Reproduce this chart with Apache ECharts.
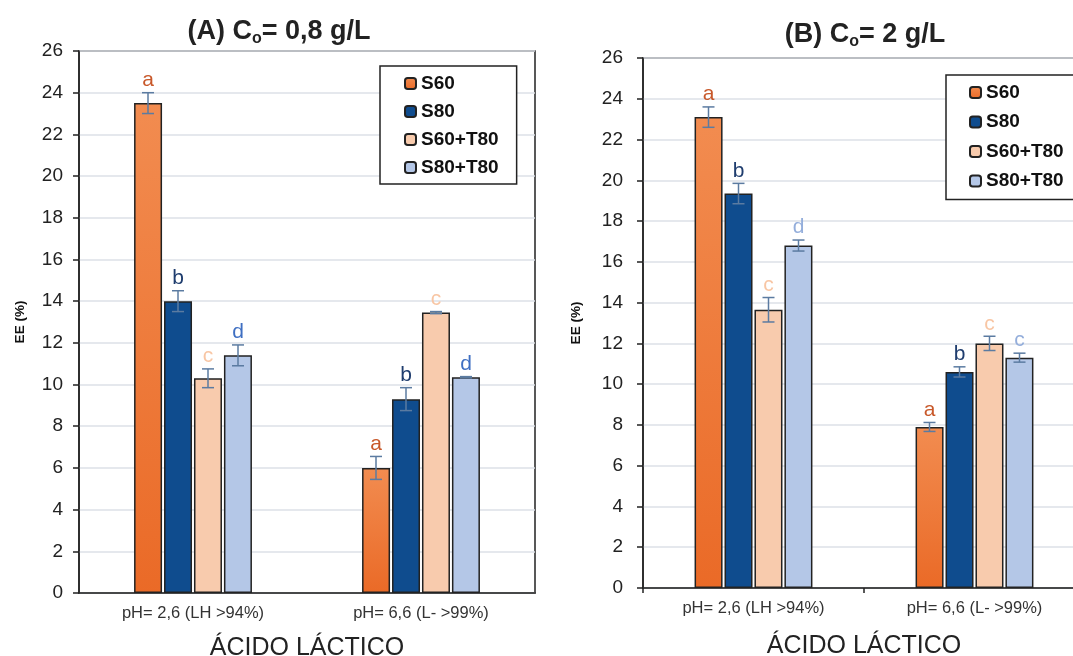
<!DOCTYPE html>
<html>
<head>
<meta charset="utf-8">
<script src="https://cdn.jsdelivr.net/npm/echarts@6/dist/echarts.min.js"></script>
<style>
  html, body { margin: 0; padding: 0; background: #fff; }
  #main { width: 1073px; height: 656px; }
</style>
</head>
<body>
<div id="main"></div>
<script>
var categories = ['pH= 2,6 (LH >94%)', 'pH= 6,6 (L- >99%)'];
var seriesNames = ['S60', 'S80', 'S60+T80', 'S80+T80'];
var yTicks = [0, 26, 2];

// panel A (Co = 0,8 g/L)
var aS60 = [23.5, 6.0];
var aS80 = [14.0, 9.3];
var aS60T80 = [10.3, 13.45];
var aS80T80 = [11.4, 10.35];
var aErr = [[0.5, 0.55], [0.5, 0.55], [0.45, 0.05], [0.5, 0.03]];
var aLetters = [['a', 'a'], ['b', 'b'], ['c', 'c'], ['d', 'd']];

// panel B (Co = 2 g/L)
var bS60 = [23.1, 7.9];
var bS80 = [19.35, 10.6];
var bS60T80 = [13.65, 12.0];
var bS80T80 = [16.8, 11.3];
var bErr = [[0.5, 0.22], [0.5, 0.25], [0.6, 0.35], [0.27, 0.22]];
var bLetters = [['a', 'a'], ['b', 'b'], ['c', 'c'], ['d', 'c']];

var myChart = echarts.init(document.getElementById('main'));

var fills = [
    new echarts.graphic.LinearGradient(0, 0, 0, 1, [
        {offset: 0, color: '#f28c50'}, {offset: 1, color: '#ea6a27'}
    ]),
    '#0f4c8e', '#f8cbad', '#b4c7e7'
];
var letterColorsA = ['#c8582a', '#1f3d6e', '#f8c6a4', '#3f6fc2'];
var letterColorsB = ['#c8582a', '#1f3d6e', '#f8c6a4', '#94aedb'];
var errColor = '#5b7ba1';
var font = '"Liberation Sans", Arial, sans-serif';

function barSeries(name, idx, values, axis) {
    return {
        name: name,
        type: 'bar',
        xAxisIndex: axis,
        yAxisIndex: axis,
        barWidth: 28,
        barGap: '7%',
        itemStyle: { color: fills[idx], borderColor: '#222', borderWidth: 1.5 },
        data: values
    };
}

function errSeries(idx, values, errs, letters, letterColors, axis) {
    var offset = (idx - 1.5) * 30;
    return {
        type: 'custom',
        xAxisIndex: axis,
        yAxisIndex: axis,
        z: 5,
        data: values.map(function(v, i) { return [i, v, errs[i]]; }),
        renderItem: function(params, api) {
            var c = api.value(0), v = api.value(1), e = api.value(2);
            var top = api.coord([c, v + e]);
            var bot = api.coord([c, v - e]);
            var x = top[0] + offset;
            var st = { stroke: errColor, lineWidth: 1.5 };
            return {
                type: 'group',
                children: [
                    { type: 'line', shape: { x1: x, y1: top[1], x2: x, y2: bot[1] }, style: st },
                    { type: 'line', shape: { x1: x - 6, y1: top[1], x2: x + 6, y2: top[1] }, style: st },
                    { type: 'line', shape: { x1: x - 6, y1: bot[1], x2: x + 6, y2: bot[1] }, style: st },
                    { type: 'text', x: x, y: top[1] - 2, style: {
                        text: letters[params.dataIndex], fill: letterColors[idx],
                        font: '21px ' + font, align: 'center', verticalAlign: 'bottom'
                    } }
                ]
            };
        }
    };
}

function legendFor(left, top, padding, gap) {
    return {
        orient: 'vertical',
        left: left,
        top: top,
        data: seriesNames,
        itemWidth: 11,
        itemHeight: 11,
        itemGap: gap,
        itemTextGap: 4,
        padding: padding,
        borderColor: '#222',
        borderWidth: 1.5,
        backgroundColor: '#fff',
        selectedMode: false,
        textStyle: { fontFamily: font, fontSize: 19, fontWeight: 'bold', color: '#111', lineHeight: 19 }
    };
}

function xAxisFor(grid, ticks, nameGap) {
    return {
        type: 'category',
        gridIndex: grid,
        data: categories,
        axisLine: { lineStyle: { color: '#222', width: 1.5 } },
        axisTick: { show: ticks, length: 5, lineStyle: { color: '#222', width: 1.5 } },
        axisLabel: { fontFamily: font, fontSize: 16.5, color: '#333', margin: 12 },
        name: 'ÁCIDO LÁCTICO',
        nameLocation: 'middle',
        nameGap: nameGap,
        nameTextStyle: { fontFamily: font, fontSize: 25, color: '#222' }
    };
}

function yAxisFor(grid, margin, nameGap) {
    return {
        type: 'value',
        gridIndex: grid,
        min: yTicks[0],
        max: yTicks[1],
        interval: yTicks[2],
        axisLine: { show: true, lineStyle: { color: '#222', width: 1.5 } },
        axisTick: { show: true, length: 6, lineStyle: { color: '#222', width: 1.5 } },
        axisLabel: { fontFamily: font, fontSize: 19, color: '#222', margin: margin },
        splitLine: { lineStyle: { color: '#dde1e7', width: 1.5 } },
        name: 'EE (%)',
        nameLocation: 'middle',
        nameRotate: 90,
        nameGap: nameGap,
        nameTextStyle: { fontFamily: font, fontSize: 13.5, fontWeight: 'bold', color: '#111' }
    };
}

function titleFor(left, top, text) {
    return {
        left: left,
        top: top,
        textAlign: 'center',
        text: text,
        textStyle: {
            rich: {
                b: { fontFamily: font, fontSize: 27, fontWeight: 'bold', color: '#222', lineHeight: 27 },
                s: { fontFamily: font, fontSize: 16, fontWeight: 'bold', color: '#222', lineHeight: 16, padding: [15, 0, 0, 0] }
            }
        }
    };
}

var option = {
    animation: false,
    title: [
        titleFor(274, 13, '{b|(A) C}{s|o}{b|= 0,8 g/L}'),
        titleFor(860, 16, '{b|(B) C}{s|o}{b|= 2 g/L}')
    ],
    legend: [
        legendFor(380, 66, [8, 18, 7, 24], 9),
        legendFor(946, 75, [8, 18, 9, 23], 10.5)
    ],
    grid: [
        { left: 79, top: 51, width: 456, height: 542, show: true, borderColor: '#222', borderWidth: 1.5, outerBoundsMode: 'none' },
        { left: 643, top: 58, width: 442, height: 530, show: true, borderColor: '#222', borderWidth: 1.5, outerBoundsMode: 'none' }
    ],
    xAxis: [xAxisFor(0, false, 43), xAxisFor(1, true, 46)],
    yAxis: [yAxisFor(0, 16, 52), yAxisFor(1, 20, 60)],
    series: [
        barSeries('S60', 0, aS60, 0),
        barSeries('S80', 1, aS80, 0),
        barSeries('S60+T80', 2, aS60T80, 0),
        barSeries('S80+T80', 3, aS80T80, 0),
        barSeries('S60', 0, bS60, 1),
        barSeries('S80', 1, bS80, 1),
        barSeries('S60+T80', 2, bS60T80, 1),
        barSeries('S80+T80', 3, bS80T80, 1),
        errSeries(0, aS60, aErr[0], aLetters[0], letterColorsA, 0),
        errSeries(1, aS80, aErr[1], aLetters[1], letterColorsA, 0),
        errSeries(2, aS60T80, aErr[2], aLetters[2], letterColorsA, 0),
        errSeries(3, aS80T80, aErr[3], aLetters[3], letterColorsA, 0),
        errSeries(0, bS60, bErr[0], bLetters[0], letterColorsB, 1),
        errSeries(1, bS80, bErr[1], bLetters[1], letterColorsB, 1),
        errSeries(2, bS60T80, bErr[2], bLetters[2], letterColorsB, 1),
        errSeries(3, bS80T80, bErr[3], bLetters[3], letterColorsB, 1)
    ]
};
myChart.setOption(option);
</script>
</body>
</html>
